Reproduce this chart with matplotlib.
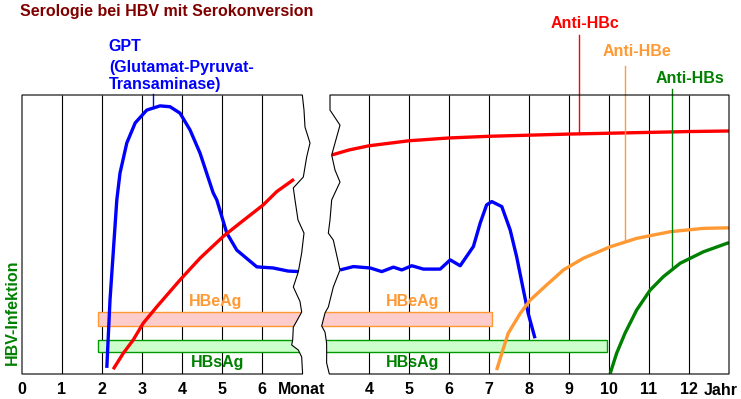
import matplotlib
matplotlib.use("Agg")
import matplotlib.pyplot as plt
from matplotlib.patches import Polygon, Rectangle

plt.rcParams['font.family'] = ['Liberation Sans', 'DejaVu Sans']
plt.rcParams['font.weight'] = 'bold'

# ---------------- data ----------------
# left panel: months
month_ticks = [0, 1, 2, 3, 4, 5, 6]
month_labels = ["0", "1", "2", "3", "4", "5", "6"]
gpt_m_x = [2.12, 2.2, 2.37, 2.45, 2.62, 2.83, 3.12, 3.45, 3.7, 3.95, 4.2, 4.45,
           4.78, 4.87, 5.12, 5.37, 5.87, 6.28, 6.65, 6.93]
gpt_m_y = [2.2, 26.5, 62.4, 72.0, 82.8, 90.0, 94.6, 96.1, 95.8, 93.5, 87.5, 79.2,
           64.9, 62.4, 50.5, 44.4, 38.4, 38.0, 36.9, 36.7]
hbc_m_x = [2.28, 2.53, 2.78, 3.03, 3.37, 3.95, 4.45, 5.03, 5.45, 6.03, 6.37, 6.8]
hbc_m_y = [1.7, 7.4, 12.2, 18.2, 24.1, 33.7, 41.5, 49.3, 54.1, 60.6, 65.4, 69.8]

# right panel: years
year_ticks = [4, 5, 6, 7, 8, 9, 10, 11, 12]
year_labels = ["4", "5", "6", "7", "8", "9", "10", "11", "12"]
hbc_y_x = [3.07, 3.5, 4.0, 5.0, 6.0, 7.0, 8.0, 9.0, 10.0, 11.0, 12.0, 13.0]
hbc_y_y = [78.5, 80.3, 81.8, 83.6, 84.6, 85.2, 85.6, 86.0, 86.3, 86.6, 86.9, 87.1]
gpt_y_x = [3.28, 3.61, 4.03, 4.32, 4.61, 4.82, 5.07, 5.36, 5.78, 6.03, 6.28, 6.61,
           6.78, 6.94, 7.07, 7.32, 7.53, 7.69, 7.86, 7.98, 8.15]
gpt_y_y = [37.3, 38.5, 38.0, 36.7, 38.3, 37.3, 38.8, 37.6, 37.6, 40.9, 38.8, 45.7,
           54.1, 60.6, 61.8, 60.0, 51.6, 42.1, 30.1, 21.7, 12.8]
hbe_x = [7.19, 7.32, 7.48, 7.78, 8.03, 8.44, 8.86, 9.36, 10.03, 10.69, 11.53, 12.36, 13.02]
hbe_y = [1.4, 7.4, 14.6, 21.7, 26.5, 31.9, 37.3, 41.5, 45.6, 48.6, 51.0, 52.2, 52.4]
hbs_x = [10.03, 10.19, 10.4, 10.69, 11.03, 11.36, 11.78, 12.36, 13.0]
hbs_y = [0.2, 7.4, 14.6, 22.9, 30.1, 34.9, 39.7, 43.8, 47.1]

# antigen bands: (start, end) and (low, high)
hbeag_left = (1.9, 7.3)
hbeag_right = (2.7, 7.08)
hbeag_level = (17.3, 22.3)
hbsag_left = (1.9, 7.3)
hbsag_right = (2.7, 9.94)
hbsag_level = (7.8, 12.1)

gpt_lines = ["GPT", "(Glutamat-Pyruvat-", "Transaminase)"]

# torn edges
edge_l_x = [7.008, 7.05, 7.075, 7.2, 7.117, 7.033, 6.783, 6.825, 6.9, 7.05, 6.992,
            6.908, 6.783, 6.95, 6.992, 6.85, 6.783, 6.767, 6.742, 6.908, 6.992, 7.015]
edge_l_y = [100, 94.6, 88.5, 82.8, 77.8, 70.6, 66.7, 62.4, 55.2, 50.5, 43.4,
            36.6, 31.2, 26.0, 22.2, 18.5, 16.8, 12.2, 10.4, 8.6, 6.1, 0]
edge_r_x = [3.025, 3.025, 3.275, 3.067, 3.15, 3.275, 3.067, 3.025, 2.983, 3.108,
            3.275, 3.108, 2.983, 2.9, 2.817, 2.9, 2.94, 2.942, 2.94, 3.008]
edge_r_y = [100, 94.6, 89.2, 78.5, 73.1, 68.8, 62.4, 55.2, 50.5, 48.0,
            37.3, 31.2, 24.0, 21.9, 17.2, 15.0, 11.1, 7.5, 4.0, 0]

RED = "#ff0000"
BLUE = "#0000ff"
ORANGE = "#ff9933"
GREEN = "#008000"
FS = 11.5

W, H = 741, 399
fig = plt.figure(figsize=(W / 100, H / 100), dpi=100)

axL = fig.add_axes([22 / W, 25 / H, 292 / W, 279 / H])
axL.set_xlim(0, 7.3)
axR = fig.add_axes([319 / W, 25 / H, 422 / W, 279 / H])
axR.set_xlim(2.75, 13.3)
for ax in (axL, axR):
    ax.set_ylim(0, 100)
    for s in ax.spines.values():
        s.set_visible(False)
    ax.patch.set_visible(False)
    ax.tick_params(length=0, pad=5.5, labelsize=FS)
    ax.set_yticks([])

# panel outlines
polyL = Polygon([(0, 0), (0, 100)] + list(zip(edge_l_x, edge_l_y)), closed=True,
                fill=False, edgecolor="black", lw=0.8, zorder=5, clip_on=False)
axL.add_patch(polyL)
polyR = Polygon([(13, 0), (13, 100)] + list(zip(edge_r_x, edge_r_y)), closed=True,
                fill=False, edgecolor="black", lw=0.8, zorder=5, clip_on=False)
axR.add_patch(polyR)

# grid lines
axL.vlines(month_ticks[1:], 0, 100, color="black", lw=0.8, zorder=1)
axR.vlines(year_ticks, 0, 100, color="black", lw=0.8, zorder=1)

# ticks
axL.set_xticks(month_ticks + [7.0])
axL.set_xticklabels(month_labels + ["Monat"])
axR.set_xticks(year_ticks)
axR.set_xticklabels(year_labels)
axR.text(12.37, -3.1, "Jahr", fontsize=FS, ha="left", va="top", clip_on=False)

# bands
def band(ax, xr, lv, fc, ec, clip):
    r = Rectangle((xr[0], lv[0]), xr[1] - xr[0], lv[1] - lv[0], facecolor=fc,
                  edgecolor=ec, lw=1.0, zorder=2)
    ax.add_patch(r)
    r.set_clip_path(clip)

band(axL, hbeag_left, hbeag_level, "#ffcccc", ORANGE, polyL)
band(axR, hbeag_right, hbeag_level, "#ffcccc", ORANGE, polyR)
band(axL, hbsag_left, hbsag_level, "#ccffcc", "#009900", polyL)
band(axR, hbsag_right, hbsag_level, "#ccffcc", "#009900", polyR)

# curves
lw = 2.4
for ax, x, y, c, clip in [(axL, gpt_m_x, gpt_m_y, BLUE, polyL),
                          (axL, hbc_m_x, hbc_m_y, RED, polyL),
                          (axR, hbc_y_x, hbc_y_y, RED, polyR),
                          (axR, gpt_y_x, gpt_y_y, BLUE, polyR),
                          (axR, hbe_x, hbe_y, ORANGE, polyR),
                          (axR, hbs_x, hbs_y, GREEN, polyR)]:
    ln, = ax.plot(x, y, color=c, lw=lw, zorder=3, solid_capstyle="butt")
    ln.set_clip_path(clip)

# band labels
axL.text(4.83, 24.2, "HBeAg", color=ORANGE, fontsize=FS, ha="center", va="baseline")
axR.text(5.1, 24.2, "HBeAg", color=ORANGE, fontsize=FS, ha="center", va="baseline")
axL.text(4.88, 2.6, "HBsAg", color=GREEN, fontsize=FS, ha="center", va="baseline")
axR.text(5.1, 2.6, "HBsAg", color=GREEN, fontsize=FS, ha="center", va="baseline")

# GPT annotation
for s, yb in zip(gpt_lines, [115.9, 108.4, 102.0]):
    axL.text(2.17, yb, s, color=BLUE, fontsize=FS, ha="left", va="baseline",
             clip_on=False)
axL.plot([3.267, 3.267], [95.7, 100.5], color=BLUE, lw=1.0, clip_on=False, zorder=4)

# antibody annotations
axR.text(9.4, 123.9, "Anti-HBc", color=RED, fontsize=FS,
         ha="center", va="baseline", clip_on=False)
axR.plot([9.26, 9.26], [86.0, 121.5], color=RED, lw=1.0, clip_on=False, zorder=4)
axR.text(10.69, 114.1, "Anti-HBe", color=ORANGE, fontsize=FS,
         ha="center", va="baseline", clip_on=False)
axR.plot([10.41, 10.41], [47.5, 110.4], color=ORANGE, lw=1.0, clip_on=False, zorder=4)
axR.text(12.03, 104.4, "Anti-HBs", color=GREEN, fontsize=FS,
         ha="center", va="baseline", clip_on=False)
axR.plot([11.58, 11.58], [37.5, 102.0], color=GREEN, lw=1.0, clip_on=False, zorder=4)

# title and side label
fig.text(20 / W, (H - 15.7) / H, "Serologie bei HBV mit Serokonversion", color="#800000",
         fontsize=FS, ha="left", va="baseline")
fig.text(12 / W, (H - 312) / H, "HBV-Infektion", color=GREEN, fontsize=FS,
         rotation=90, ha="center", va="center")

fig.savefig("out.png", dpi=100)
